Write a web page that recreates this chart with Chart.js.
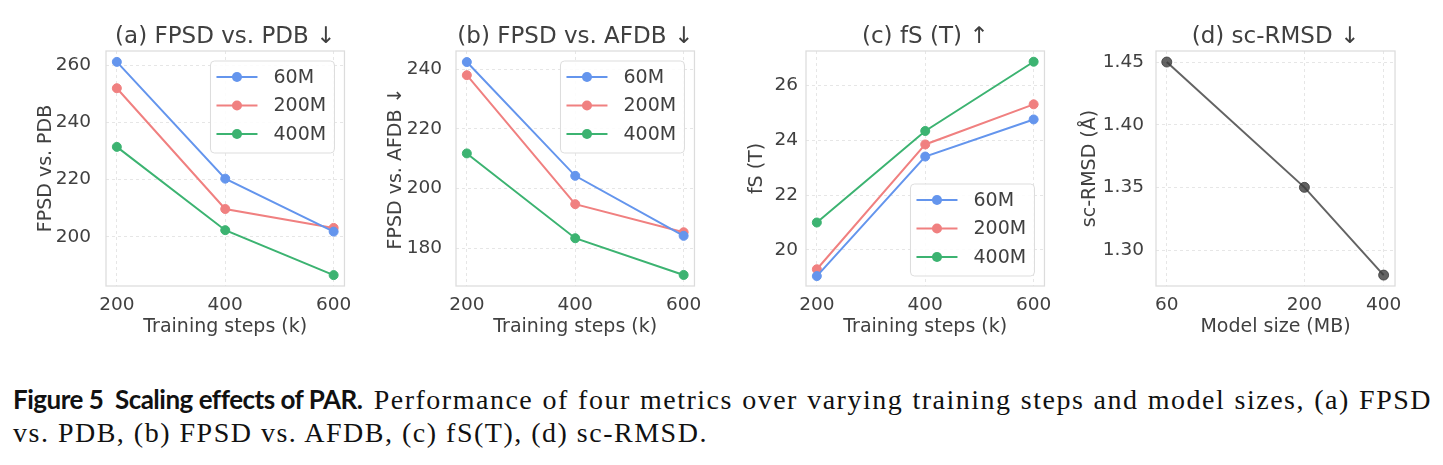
<!DOCTYPE html>
<html>
<head>
<meta charset="utf-8">
<script src="https://cdn.jsdelivr.net/npm/chart.js@4.4.1/dist/chart.umd.min.js"></script>
<style>
  html, body { margin: 0; padding: 0; background: #fff; }
  body { width: 1443px; height: 465px; position: relative; overflow: hidden; }
  canvas { position: absolute; top: 0; }
  .caption {
    position: absolute; left: 13px; top: 383px; width: 1419px;
    font-family: "Liberation Serif", serif; font-size: 28px; line-height: 33px; color: #111;
    letter-spacing: 1.5px;
  }
  .caption .l1 { text-align: justify; text-align-last: justify; }
  .caption .fig {
    display: inline-block; font-family: Lato, "Open Sans", sans-serif; font-weight: 700;
    font-size: 26px; letter-spacing: -0.5px; margin-right: 2px;
  }
</style>
</head>
<body>
<canvas id="pa" width="360" height="345" style="left:0px"></canvas>
<canvas id="pb" width="350" height="345" style="left:360px"></canvas>
<canvas id="pc" width="340" height="345" style="left:720px"></canvas>
<canvas id="pd" width="340" height="345" style="left:1070px"></canvas>
<div class="caption">
  <div class="l1"><span class="fig">Figure 5&nbsp;&nbsp;Scaling effects of PAR.</span> Performance of four metrics over varying training steps and model sizes, (a) FPSD</div>
  <div>vs. PDB, (b) FPSD vs. AFDB, (c) fS(T), (d) sc-RMSD.</div>
</div>
<script>
// 数据
const steps = [200, 400, 600];
const sizeLabels = ['60M', '200M', '400M'];
const pdb60 = [261.1, 220.3, 201.8];
const pdb200 = [251.9, 209.7, 203.1];
const pdb400 = [231.4, 202.3, 186.6];
const afdb60 = [242.4, 204.3, 184.2];
const afdb200 = [238.0, 194.8, 185.4];
const afdb400 = [211.8, 183.4, 171.1];
const fs60 = [19.05, 23.4, 24.75];
const fs200 = [19.3, 23.84, 25.3];
const fs400 = [21.0, 24.33, 26.85];
const modelSizes = [60, 200, 400];
const rmsd = [1.45, 1.35, 1.28];

const pdbTicks = [200, 220, 240, 260];
const afdbTicks = [180, 200, 220, 240];
const fsTicks = [20, 22, 24, 26];
const rmsdTicks = [1.30, 1.35, 1.40, 1.45];
const sizeGrid = [60, 70, 80, 90, 200, 300, 400];

const seriesColors = ['#6495ED', '#F08080', '#3CB371'];
const textColor = '#404040';
const gridColor = '#e6e6e6';

Chart.defaults.font.family = '"DejaVu Sans", sans-serif';

// 绘制边框和图例
const frameAndLegend = {
  id: 'frameAndLegend',
  beforeDatasetsDraw(chart) {
    const { ctx, chartArea: a } = chart;
    ctx.save();
    ctx.strokeStyle = '#dcdcdc';
    ctx.lineWidth = 1.25;
    ctx.strokeRect(a.left, a.top, a.right - a.left, a.bottom - a.top);
    ctx.restore();
  },
  afterDatasetsDraw(chart, args, opts) {
    if (!opts.where) return;
    const { ctx, chartArea: a } = chart;
    const w = 124, h = 92;
    const x = a.right - 10 - w;
    const y = opts.where === 'upper' ? a.top + 10 : a.bottom - 10 - h;
    ctx.save();
    ctx.beginPath();
    ctx.roundRect(x, y, w, h, 4);
    ctx.fillStyle = 'rgba(255,255,255,0.85)';
    ctx.fill();
    ctx.strokeStyle = '#dddddd';
    ctx.lineWidth = 1;
    ctx.stroke();
    chart.data.datasets.forEach((ds, i) => {
      const cy = y + 16 + i * 28.5;
      ctx.strokeStyle = ds.borderColor;
      ctx.lineWidth = 2;
      ctx.beginPath();
      ctx.moveTo(x + 6, cy);
      ctx.lineTo(x + 47, cy);
      ctx.stroke();
      ctx.fillStyle = ds.borderColor;
      ctx.beginPath();
      ctx.arc(x + 26.5, cy, 5, 0, Math.PI * 2);
      ctx.fill();
      ctx.fillStyle = textColor;
      ctx.font = '19px "DejaVu Sans"';
      ctx.textBaseline = 'middle';
      ctx.textAlign = 'left';
      ctx.fillText(ds.label, x + 63, cy + 1);
    });
    ctx.restore();
  }
};

function lineSet(label, xs, ys, color) {
  return {
    label: label,
    data: xs.map((v, i) => ({ x: v, y: ys[i] })),
    borderColor: color,
    backgroundColor: color,
    borderWidth: 2,
    pointRadius: 4.5,
    pointBorderWidth: 1,
    tension: 0
  };
}

function makePanel(id, p) {
  return new Chart(document.getElementById(id), {
    type: 'line',
    data: { datasets: p.datasets },
    options: {
      responsive: false,
      animation: false,
      layout: { padding: { left: 0, right: p.padRight, top: 0, bottom: 0 } },
      plugins: {
        legend: { display: false },
        tooltip: { enabled: false },
        title: {
          display: true, text: p.title, fullSize: false, color: textColor,
          font: { size: 23, weight: 'normal' }, padding: { top: 23.2, bottom: 0.2 }
        },
        frameAndLegend: { where: p.legend }
      },
      scales: {
        x: {
          type: p.xType, min: p.xMin, max: p.xMax,
          afterBuildTicks: s => { s.ticks = p.xGrid.map(v => ({ value: v })); },
          afterFit: s => { s.height = 59; },
          ticks: {
            color: textColor, font: { size: 18.5 }, padding: 8, maxRotation: 0, autoSkip: false,
            callback: v => p.xLabels.includes(v) ? String(v) : null
          },
          grid: { color: gridColor, drawTicks: false, lineWidth: 1 },
          border: { display: false, dash: [3, 3] },
          title: {
            display: true, text: p.xTitle, color: textColor,
            font: { size: 19 }, padding: { top: 0, bottom: 7 }
          }
        },
        y: {
          type: 'linear', min: p.yMin, max: p.yMax,
          afterBuildTicks: s => { s.ticks = p.yTicks.map(v => ({ value: v })); },
          afterFit: s => { s.width = p.yWidth; },
          ticks: {
            color: textColor, font: { size: 18.5 }, padding: p.yPad,
            callback: v => v.toFixed(p.yDec)
          },
          grid: { color: gridColor, drawTicks: false, lineWidth: 1 },
          border: { display: false, dash: [3, 3] },
          title: {
            display: true, text: p.yTitle, color: textColor,
            font: { size: 19 }, padding: { top: p.yTitlePad, bottom: 0 }
          }
        }
      }
    },
    plugins: [frameAndLegend]
  });
}

makePanel('pa', {
  title: '(a) FPSD vs. PDB ↓',
  datasets: [
    lineSet(sizeLabels[0], steps, pdb60, seriesColors[0]),
    lineSet(sizeLabels[1], steps, pdb200, seriesColors[1]),
    lineSet(sizeLabels[2], steps, pdb400, seriesColors[2])
  ],
  legend: 'upper',
  xType: 'linear', xMin: 180, xMax: 620, xGrid: steps, xLabels: steps, xTitle: 'Training steps (k)',
  yMin: 182.8, yMax: 264.9, yTicks: pdbTicks, yDec: 0, yTitle: 'FPSD vs. PDB',
  yWidth: 106, yPad: 15, yTitlePad: 34.4, padRight: 11
});

makePanel('pb', {
  title: '(b) FPSD vs. AFDB ↓',
  datasets: [
    lineSet(sizeLabels[0], steps, afdb60, seriesColors[0]),
    lineSet(sizeLabels[1], steps, afdb200, seriesColors[1]),
    lineSet(sizeLabels[2], steps, afdb400, seriesColors[2])
  ],
  legend: 'upper',
  xType: 'linear', xMin: 180, xMax: 620, xGrid: steps, xLabels: steps, xTitle: 'Training steps (k)',
  yMin: 167.4, yMax: 246.1, yTicks: afdbTicks, yDec: 0, yTitle: 'FPSD vs. AFDB ↓',
  yWidth: 96, yPad: 14, yTitlePad: 24.4, padRight: 11
});

makePanel('pc', {
  title: '(c) fS (T) ↑',
  datasets: [
    lineSet(sizeLabels[0], steps, fs60, seriesColors[0]),
    lineSet(sizeLabels[1], steps, fs200, seriesColors[1]),
    lineSet(sizeLabels[2], steps, fs400, seriesColors[2])
  ],
  legend: 'lower',
  xType: 'linear', xMin: 180, xMax: 620, xGrid: steps, xLabels: steps, xTitle: 'Training steps (k)',
  yMin: 18.69, yMax: 27.24, yTicks: fsTicks, yDec: 0, yTitle: 'fS (T)',
  yWidth: 86, yPad: 8, yTitlePad: 26, padRight: 11
});

makePanel('pd', {
  title: '(d) sc-RMSD ↓',
  datasets: [
    Object.assign(lineSet('sc-RMSD', modelSizes, rmsd, 'rgba(60,60,60,0.8)'), { pointRadius: 5 })
  ],
  legend: null,
  xType: 'logarithmic', xMin: 54.6, xMax: 441.9, xGrid: sizeGrid, xLabels: modelSizes, xTitle: 'Model size (MB)',
  yMin: 1.2713, yMax: 1.4588, yTicks: rmsdTicks, yDec: 2, yTitle: 'sc-RMSD (Å)',
  yWidth: 86, yPad: 12, yTitlePad: 8.4, padRight: 11
});
</script>
</body>
</html>
